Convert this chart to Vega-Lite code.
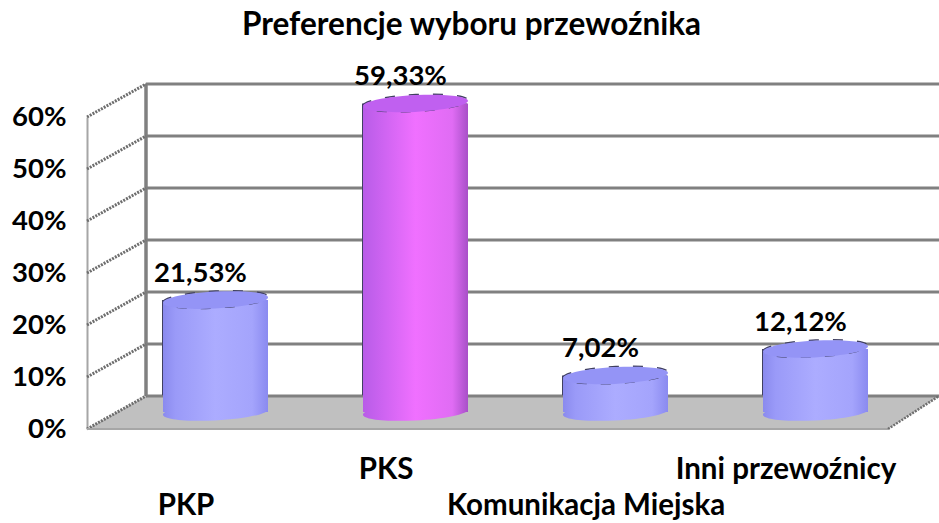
{"$schema":"https://vega.github.io/schema/vega-lite/v6.json","width":939,"height":440,"padding":{"left":0,"top":0,"right":0,"bottom":83},"autosize":"none","background":"white","config":{"view":{"stroke":null}},"title":{"text":"Preferencje wyboru przewoźnika","font":"Lato","fontWeight":"bold","fontSize":31.5,"color":"black","anchor":"middle","frame":"group","offset":0,"dy":66,"dx":2,"baseline":"alphabetic"},"datasets":{"series":[{"carrier":"PKP","share":21.53,"label":"21,53%"},{"carrier":"PKS","share":59.33,"label":"59,33%"},{"carrier":"Komunikacja Miejska","share":7.02,"label":"7,02%"},{"carrier":"Inni przewoźnicy","share":12.12,"label":"12,12%"}],"ticks":[{"pct":0},{"pct":10},{"pct":20},{"pct":30},{"pct":40},{"pct":50},{"pct":60}],"floor":[{"u":0,"far":0,"near":0},{"u":59,"far":6.35,"near":0},{"u":801,"far":6.35,"near":0},{"u":852,"far":6.35,"near":6.35}]},"resolve":{"scale":{"x":"independent","y":"independent"},"axis":{"x":"independent","y":"independent"}},"layer":[{"data":{"name":"floor"},"mark":{"type":"area","fill":"#c0c0c0","orient":"vertical"},"encoding":{"x":{"field":"u","type":"quantitative","scale":{"domain":[0,852],"range":[87,939]},"axis":null},"y":{"field":"far","type":"quantitative","scale":{"domain":[0,60],"range":[429,117]},"axis":null},"y2":{"field":"near"}}},{"data":{"name":"ticks"},"mark":{"type":"rule","color":"#808080","strokeWidth":3},"encoding":{"x":{"datum":59,"type":"quantitative","scale":{"domain":[0,852],"range":[87,939]},"axis":null},"x2":{"datum":852},"y":{"field":"pct","type":"quantitative","scale":{"domain":[0,60],"range":[396,84]},"axis":null}}},{"data":{"values":[{"a":0,"b":60}]},"mark":{"type":"rule","color":"#808080","strokeWidth":3.5},"encoding":{"x":{"datum":59,"type":"quantitative","scale":{"domain":[0,852],"range":[87,939]},"axis":null},"y":{"field":"a","type":"quantitative","scale":{"domain":[0,60],"range":[396,84]},"axis":null},"y2":{"field":"b"}}},{"data":{"name":"ticks"},"mark":{"type":"rule","color":"#6e6e6e","strokeWidth":3,"strokeDash":[2,1.2],"y2Offset":-33},"encoding":{"x":{"datum":0,"type":"quantitative","scale":{"domain":[0,852],"range":[87,939]},"axis":null},"x2":{"datum":59},"y":{"field":"pct","type":"quantitative","scale":{"domain":[0,60],"range":[429,117]},"axis":{"orient":"left","offset":-87,"values":[0,10,20,30,40,50,60],"labelExpr":"datum.value+'%'","title":null,"grid":false,"ticks":false,"domain":true,"domainColor":"#a6a6a6","domainWidth":2,"labelPadding":21,"labelFont":"Lato","labelFontWeight":"bold","labelFontSize":27.5,"labelColor":"black","labelOverlap":false,"labelBound":false,"labelFlush":false}},"y2":{"field":"pct"}}},{"data":{"values":[{"a":0}]},"mark":{"type":"rule","color":"#a6a6a6","strokeWidth":2},"encoding":{"x":{"datum":0,"type":"quantitative","scale":{"domain":[0,852],"range":[87,939]},"axis":null},"x2":{"datum":801},"y":{"field":"a","type":"quantitative","scale":{"domain":[0,60],"range":[429,117]},"axis":null}}},{"data":{"values":[{"a":0}]},"mark":{"type":"rule","color":"#6e6e6e","strokeWidth":2.5,"strokeDash":[2,1.2],"y2Offset":-33},"encoding":{"x":{"datum":801,"type":"quantitative","scale":{"domain":[0,852],"range":[87,939]},"axis":null},"x2":{"datum":852},"y":{"field":"a","type":"quantitative","scale":{"domain":[0,60],"range":[429,117]},"axis":null},"y2":{"field":"a"}}},{"data":{"name":"series"},"mark":{"type":"bar","fill":"#404060","xOffset":-1},"encoding":{"x":{"field":"carrier","type":"nominal","sort":null,"scale":{"range":[115.5,915.5],"paddingInner":0.475,"paddingOuter":0.2375},"axis":null},"y":{"field":"share","type":"quantitative","scale":{"domain":[0,60],"range":[412,100]},"axis":null},"y2":{"datum":3.2}}},{"data":{"name":"series"},"mark":{"type":"point","filled":true,"opacity":1,"size":11025,"shape":"M-1,0.05A1,0.16,-3,1,1,1,-0.05A1,0.16,-3,1,1,-1,0.05Z"},"encoding":{"x":{"field":"carrier","type":"nominal","sort":null,"scale":{"range":[115.5,915.5],"paddingInner":0.475,"paddingOuter":0.2375},"axis":null},"y":{"datum":0,"type":"quantitative","scale":{"domain":[0,60],"range":[412,100]},"axis":null},"fill":{"condition":{"test":"datum.carrier==='PKS'","value":{"gradient":"linear","x1":0,"x2":1,"y1":0,"y2":0,"stops":[{"offset":0,"color":"#b85ce8"},{"offset":0.5,"color":"#f070ff"},{"offset":0.85,"color":"#e06cf4"},{"offset":1,"color":"#a850c8"}]}},"value":{"gradient":"linear","x1":0,"x2":1,"y1":0,"y2":0,"stops":[{"offset":0,"color":"#8a8aee"},{"offset":0.12,"color":"#9a9af8"},{"offset":0.5,"color":"#acacff"},{"offset":0.85,"color":"#a4a4fc"},{"offset":1,"color":"#8a8af0"}]}}}},{"data":{"name":"series"},"mark":{"type":"bar"},"encoding":{"x":{"field":"carrier","type":"nominal","sort":null,"scale":{"range":[115.5,915.5],"paddingInner":0.475,"paddingOuter":0.2375},"axis":{"orient":"bottom","title":null,"domain":false,"ticks":false,"grid":false,"labelAngle":0,"labelOffset":-29.5,"labelPadding":15,"labelBaseline":"top","labelAlign":"center","labelFont":"Lato","labelFontWeight":"bold","labelFontSize":29.5,"labelLineHeight":36,"labelColor":"black","labelLimit":500,"labelOverlap":false,"labelBound":false,"labelFlush":false,"labelExpr":"(datum.value==='PKS'||datum.value==='Inni przewoźnicy')?datum.label:['',datum.label]"}},"y":{"field":"share","type":"quantitative","scale":{"domain":[0,60],"range":[412,100]},"axis":null},"y2":{"datum":0},"fill":{"condition":{"test":"datum.carrier==='PKS'","value":{"gradient":"linear","x1":0,"x2":1,"y1":0,"y2":0,"stops":[{"offset":0,"color":"#b85ce8"},{"offset":0.5,"color":"#f070ff"},{"offset":0.85,"color":"#e06cf4"},{"offset":1,"color":"#a850c8"}]}},"value":{"gradient":"linear","x1":0,"x2":1,"y1":0,"y2":0,"stops":[{"offset":0,"color":"#8a8aee"},{"offset":0.12,"color":"#9a9af8"},{"offset":0.5,"color":"#acacff"},{"offset":0.85,"color":"#a4a4fc"},{"offset":1,"color":"#8a8af0"}]}}}},{"data":{"name":"series"},"mark":{"type":"point","filled":false,"opacity":1,"size":11025,"stroke":"#404060","strokeWidth":1.5,"strokeDash":[10,14],"yOffset":-0.5,"shape":"M-1,0.05A1,0.16,-3,1,1,1,-0.05A1,0.16,-3,1,1,-1,0.05Z"},"encoding":{"x":{"field":"carrier","type":"nominal","sort":null,"scale":{"range":[115.5,915.5],"paddingInner":0.475,"paddingOuter":0.2375},"axis":null},"y":{"field":"share","type":"quantitative","scale":{"domain":[0,60],"range":[412,100]},"axis":null}}},{"data":{"name":"series"},"mark":{"type":"point","filled":true,"opacity":1,"size":11025,"shape":"M-1,0.05A1,0.16,-3,1,1,1,-0.05A1,0.16,-3,1,1,-1,0.05Z"},"encoding":{"x":{"field":"carrier","type":"nominal","sort":null,"scale":{"range":[115.5,915.5],"paddingInner":0.475,"paddingOuter":0.2375},"axis":null},"y":{"field":"share","type":"quantitative","scale":{"domain":[0,60],"range":[412,100]},"axis":null},"fill":{"condition":{"test":"datum.carrier==='PKS'","value":"#c060f0"},"value":"#9494f6"}}},{"data":{"name":"series"},"mark":{"type":"text","font":"Lato","fontWeight":"bold","fontSize":27.5,"color":"black","dx":-15,"dy":-26,"baseline":"middle"},"encoding":{"x":{"field":"carrier","type":"nominal","sort":null,"scale":{"range":[115.5,915.5],"paddingInner":0.475,"paddingOuter":0.2375},"axis":null},"y":{"field":"share","type":"quantitative","scale":{"domain":[0,60],"range":[412,100]},"axis":null},"text":{"field":"label"}}}]}
